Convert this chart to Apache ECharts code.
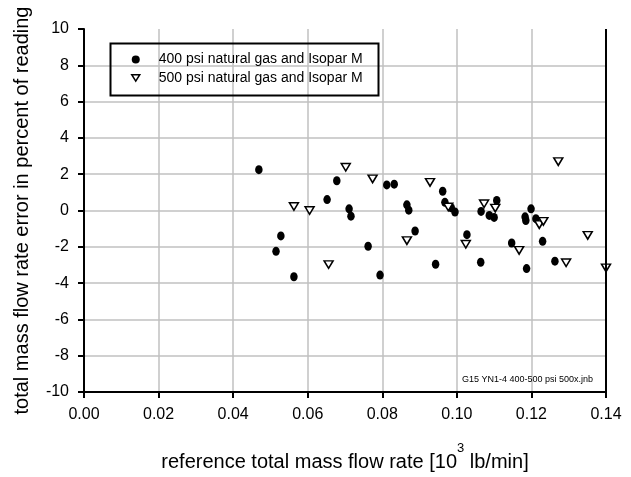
<!DOCTYPE html>
<html>
<head>
<meta charset="utf-8">
<script src="https://cdn.jsdelivr.net/npm/echarts@6/dist/echarts.min.js"></script>
<style>html,body{margin:0;padding:0;background:#fff}#c{width:631px;height:477px}</style>
</head>
<body>
<div id="c"></div>
<script>
const seriesNames = ['400 psi natural gas and Isopar M', '500 psi natural gas and Isopar M'];
const x400 = [0.0469,0.0678,0.0652,0.0528,0.0515,0.0563,0.0812,0.0832,0.0711,0.0716,0.0866,0.0871,0.0888,0.0762,0.0794,0.0962,0.0968,0.0985,0.0995,0.1107,0.1065,0.1087,0.1100,0.1027,0.1147,0.0943,0.1064,0.1199,0.1183,0.1185,0.1212,0.1230,0.1263,0.1187];
const y400 = [2.25,1.64,0.60,-1.40,-2.25,-3.65,1.41,1.45,0.09,-0.31,0.31,0.02,-1.13,-1.97,-3.56,1.06,0.45,0.15,-0.08,0.55,-0.05,-0.27,-0.38,-1.33,-1.79,-2.96,-2.85,0.09,-0.35,-0.55,-0.45,-1.70,-2.79,-3.20];
const x500 = [0.0563,0.0605,0.0656,0.0702,0.0774,0.0866,0.0928,0.0977,0.1073,0.1103,0.1024,0.1272,0.1221,0.1232,0.1167,0.1351,0.1293,0.1400];
const y500 = [0.22,0.00,-2.98,2.38,1.74,-1.66,1.55,0.19,0.37,0.13,-1.86,2.69,-0.78,-0.60,-2.20,-1.37,-2.88,-3.16];
const xTicks = ['0.00','0.02','0.04','0.06','0.08','0.10','0.12','0.14'];
const yTicks = ['-10','-8','-6','-4','-2','0','2','4','6','8','10'];
const noteText = 'G15 YN1-4 400-500 psi 500x.jnb';

const FF = 'Liberation Sans, Arial, sans-serif';
const tri = 'path://M0,0 L10,0 L5,8 Z';
const chart = echarts.init(document.getElementById('c'), null, {renderer:'canvas'});
chart.setOption({
  animation: false,
  backgroundColor: '#fff',
  grid: {left: 84, right: 25, top: 29, bottom: 83, containLabel: false},
  xAxis: {
    type: 'value', min: 0, max: 0.14, interval: 0.02,
    axisLine: {show: true, onZero: false, lineStyle: {color: '#000', width: 2}},
    axisTick: {show: true, length: 6, lineStyle: {color: '#000', width: 2}},
    axisLabel: {fontFamily: FF, fontSize: 16, color: '#000', margin: 15,
      formatter: (v) => xTicks[Math.round(v / 0.02)]},
    splitLine: {show: true, lineStyle: {color: '#c0c0c0', width: 1.5}},
    name: '{a|reference total mass flow rate [10}{sup|3}{a| lb/min]}',
    nameLocation: 'middle', nameGap: 50,
    nameTextStyle: {fontFamily: FF, fontSize: 20, color: '#000',
      rich: {
        a: {fontSize: 20, lineHeight: 30, fontFamily: FF, color: '#000', verticalAlign: 'bottom'},
        sup: {fontSize: 13, lineHeight: 13, verticalAlign: 'top', fontFamily: FF, color: '#000'}
      }}
  },
  yAxis: {
    type: 'value', min: -10, max: 10, interval: 2,
    axisLine: {show: true, onZero: false, lineStyle: {color: '#000', width: 2}},
    axisTick: {show: true, length: 6, lineStyle: {color: '#000', width: 2}},
    axisLabel: {fontFamily: FF, fontSize: 16, color: '#000', margin: 15,
      formatter: (v) => yTicks[Math.round((v + 10) / 2)]},
    splitLine: {show: true, showMaxLine: false, lineStyle: {color: '#c0c0c0', width: 1.5}},
    name: 'total mass flow rate error in percent of reading',
    nameLocation: 'middle', nameGap: 52,
    nameTextStyle: {fontFamily: FF, fontSize: 20, color: '#000'}
  },
  legend: {
    left: 126, top: 46.5, orient: 'vertical', itemGap: 2.4,
    itemWidth: 8, itemHeight: 8,
    textStyle: {fontFamily: FF, fontSize: 14, lineHeight: 16, color: '#000', padding: [0,0,0,14]},
    data: [
      {name: seriesNames[0], icon: 'circle', itemStyle: {color: '#000'}},
      {name: seriesNames[1], icon: tri, itemStyle: {color: '#fff', borderColor: '#000', borderWidth: 1.5}}
    ]
  },
  graphic: [
    {type: 'rect', left: 108, top: 41, shape: {width: 268, height: 52}, style: {fill: 'none', stroke: '#000', lineWidth: 2}, z: 100},
    {type: 'line', shape: {x1: 606, y1: 29, x2: 606, y2: 395}, style: {stroke: '#000', lineWidth: 2}, z: 100},
    {type: 'text', left: 462, top: 375, style: {text: noteText, fontFamily: FF, fontSize: 9, fill: '#000'}, z: 100}
  ],
  series: [
    {name: seriesNames[0], type: 'scatter', clip: false, symbol: 'circle', symbolSize: [7.5, 9],
     itemStyle: {color: '#000', opacity: 1},
     data: x400.map((x, i) => [x, y400[i]])},
    {name: seriesNames[1], type: 'scatter', clip: false, symbol: tri, symbolSize: [9, 7.5],
     itemStyle: {color: '#fff', borderColor: '#000', borderWidth: 1.5, opacity: 1},
     data: x500.map((x, i) => [x, y500[i]])}
  ]
});
</script>
</body>
</html>
